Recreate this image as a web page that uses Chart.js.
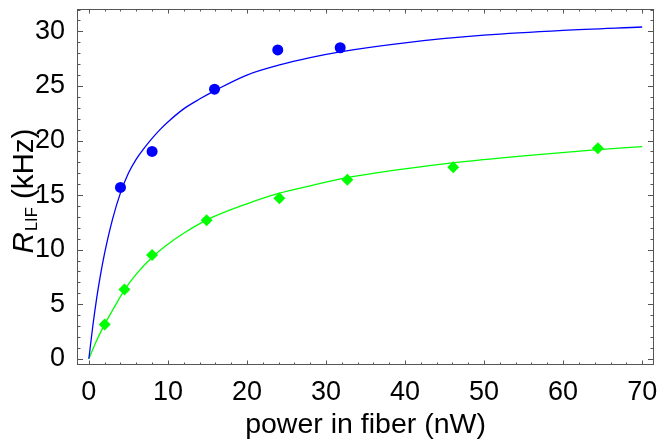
<!DOCTYPE html>
<html><head><meta charset="utf-8">
<script src="https://cdn.jsdelivr.net/npm/chart.js@4"></script>
<style>html,body{margin:0;padding:0;background:#fff}</style>
</head><body>
<canvas id="c" width="660" height="441"></canvas>
<script>
const xTicks = [0, 10, 20, 30, 40, 50, 60, 70];
const yTicks = [0, 5, 10, 15, 20, 25, 30];
const blueX = [4.0, 8.0, 15.9, 23.9, 31.8];
const blueY = [15.7, 19.0, 24.7, 28.3, 28.5];
const greenX = [2.0, 4.5, 8.0, 14.9, 24.1, 32.7, 46.1, 64.4];
const greenY = [3.15, 6.35, 9.5, 12.7, 14.7, 16.4, 17.55, 19.3];
const blueFitX = [0, 0.5, 1, 1.5, 2, 3, 4, 5, 6, 7, 8, 9, 10, 12, 14, 16, 20, 24, 28, 32, 40, 50, 60, 70];
const blueFitY = [0, 3.0, 5.6, 7.8, 9.7, 12.8, 15.2, 17.0, 18.3, 19.3, 20.2, 21.0, 21.7, 22.9, 23.8, 24.6, 26.0, 26.9, 27.6, 28.15, 28.95, 29.65, 30.1, 30.4];
const greenFitX = [0, 1, 2, 3, 4.5, 6, 8, 10, 12, 15, 20, 24, 28, 32, 40, 46, 55, 64, 70];
const greenFitY = [0, 1.7, 3.15, 4.45, 6.3, 7.75, 9.3, 10.5, 11.5, 12.75, 14.2, 15.15, 15.85, 16.5, 17.4, 17.95, 18.6, 19.15, 19.44];

const xMinorStep = 2, yMinorStep = 1;
const FONT = "'Liberation Sans', Arial, sans-serif";
const pts = (xs, ys) => xs.map((v, i) => ({x: v, y: ys[i]}));

const framePlugin = {
  id: 'frame',
  afterDraw(chart) {
    const {ctx, chartArea: a, scales: {x, y}} = chart;
    ctx.save();
    ctx.strokeStyle = '#555';
    ctx.lineWidth = 1;
    ctx.strokeRect(a.left + 0.5, a.top + 0.5, a.right - a.left - 1, a.bottom - a.top - 1);
    ctx.beginPath();
    for (let v = Math.ceil(x.min / xMinorStep) * xMinorStep; v <= x.max; v += xMinorStep) {
      const px = Math.round(x.getPixelForValue(v)) + 0.5;
      const len = xTicks.includes(v) ? 4.5 : 2.5;
      ctx.moveTo(px, a.bottom); ctx.lineTo(px, a.bottom - len);
      ctx.moveTo(px, a.top); ctx.lineTo(px, a.top + len);
    }
    for (let v = Math.ceil(y.min / yMinorStep) * yMinorStep; v <= y.max; v += yMinorStep) {
      const py = Math.round(y.getPixelForValue(v)) + 0.5;
      const len = yTicks.includes(v) ? 6 : 3.5;
      ctx.moveTo(a.left, py); ctx.lineTo(a.left + len, py);
      ctx.moveTo(a.right, py); ctx.lineTo(a.right - len, py);
    }
    ctx.stroke();
    // y-axis title: R_LIF (kHz)
    const cy = 191, bx = 33;
    ctx.translate(bx, cy);
    ctx.rotate(-Math.PI / 2);
    ctx.fillStyle = '#000';
    ctx.textBaseline = 'alphabetic';
    ctx.textAlign = 'left';
    const fR = 'italic 29.5px ' + FONT, fS = '16.5px ' + FONT, fN = '29.5px ' + FONT;
    ctx.font = fR; const wR = ctx.measureText('R').width;
    ctx.font = fS; const wS = ctx.measureText('LIF').width;
    ctx.font = fN; const wN = ctx.measureText(' (kHz)').width;
    let sx = -(wR + 1 + wS + wN) / 2;
    ctx.font = fR; ctx.fillText('R', sx, 0); sx += wR + 1;
    ctx.font = fS; ctx.fillText('LIF', sx, 4); sx += wS;
    ctx.font = fN; ctx.fillText(' (kHz)', sx, 0);
    ctx.restore();
  }
};

new Chart(document.getElementById('c'), {
  type: 'scatter',
  data: {
    datasets: [
      {data: pts(blueFitX, blueFitY), showLine: true, borderColor: '#0000ff', borderWidth: 1.3, pointRadius: 0, cubicInterpolationMode: 'monotone', fill: false},
      {data: pts(greenFitX, greenFitY), showLine: true, borderColor: '#00ff00', borderWidth: 1.3, pointRadius: 0, cubicInterpolationMode: 'monotone', fill: false},
      {data: pts(blueX, blueY), pointStyle: 'circle', pointRadius: 5.5, pointBackgroundColor: '#0000ff', pointBorderWidth: 0, borderColor: '#0000ff'},
      {data: pts(greenX, greenY), pointStyle: 'rectRot', pointRadius: 6, pointBackgroundColor: '#00ff00', pointBorderWidth: 0, borderColor: '#00ff00'}
    ]
  },
  options: {
    responsive: false,
    animation: false,
    devicePixelRatio: 1,
    layout: {padding: {left: 0, top: 9, right: 5, bottom: 0}},
    plugins: {legend: {display: false}, tooltip: {enabled: false}},
    scales: {
      x: {
        type: 'linear', min: -1.5, max: 71.5,
        afterBuildTicks: s => { s.ticks = xTicks.map(v => ({value: v})); },
        afterFit: s => { s.height = 76; s.paddingLeft = 0; s.paddingRight = 0; },
        grid: {display: false}, border: {display: false},
        ticks: {color: '#000', font: {family: FONT, size: 27}, padding: 3, maxRotation: 0},
        title: {display: true, text: 'power in fiber (nW)', color: '#000', font: {family: FONT, size: 28.5, lineHeight: 1}, padding: {top: 0, bottom: 2}}
      },
      y: {
        type: 'linear', min: -0.57, max: 32.05,
        afterBuildTicks: s => { s.ticks = yTicks.map(v => ({value: v})); },
        afterFit: s => { s.width = 77; s.paddingTop = 0; s.paddingBottom = 0; },
        grid: {display: false}, border: {display: false},
        ticks: {color: '#000', font: {family: FONT, size: 27}, padding: 4}
      }
    }
  },
  plugins: [framePlugin]
});
</script>
</body></html>
